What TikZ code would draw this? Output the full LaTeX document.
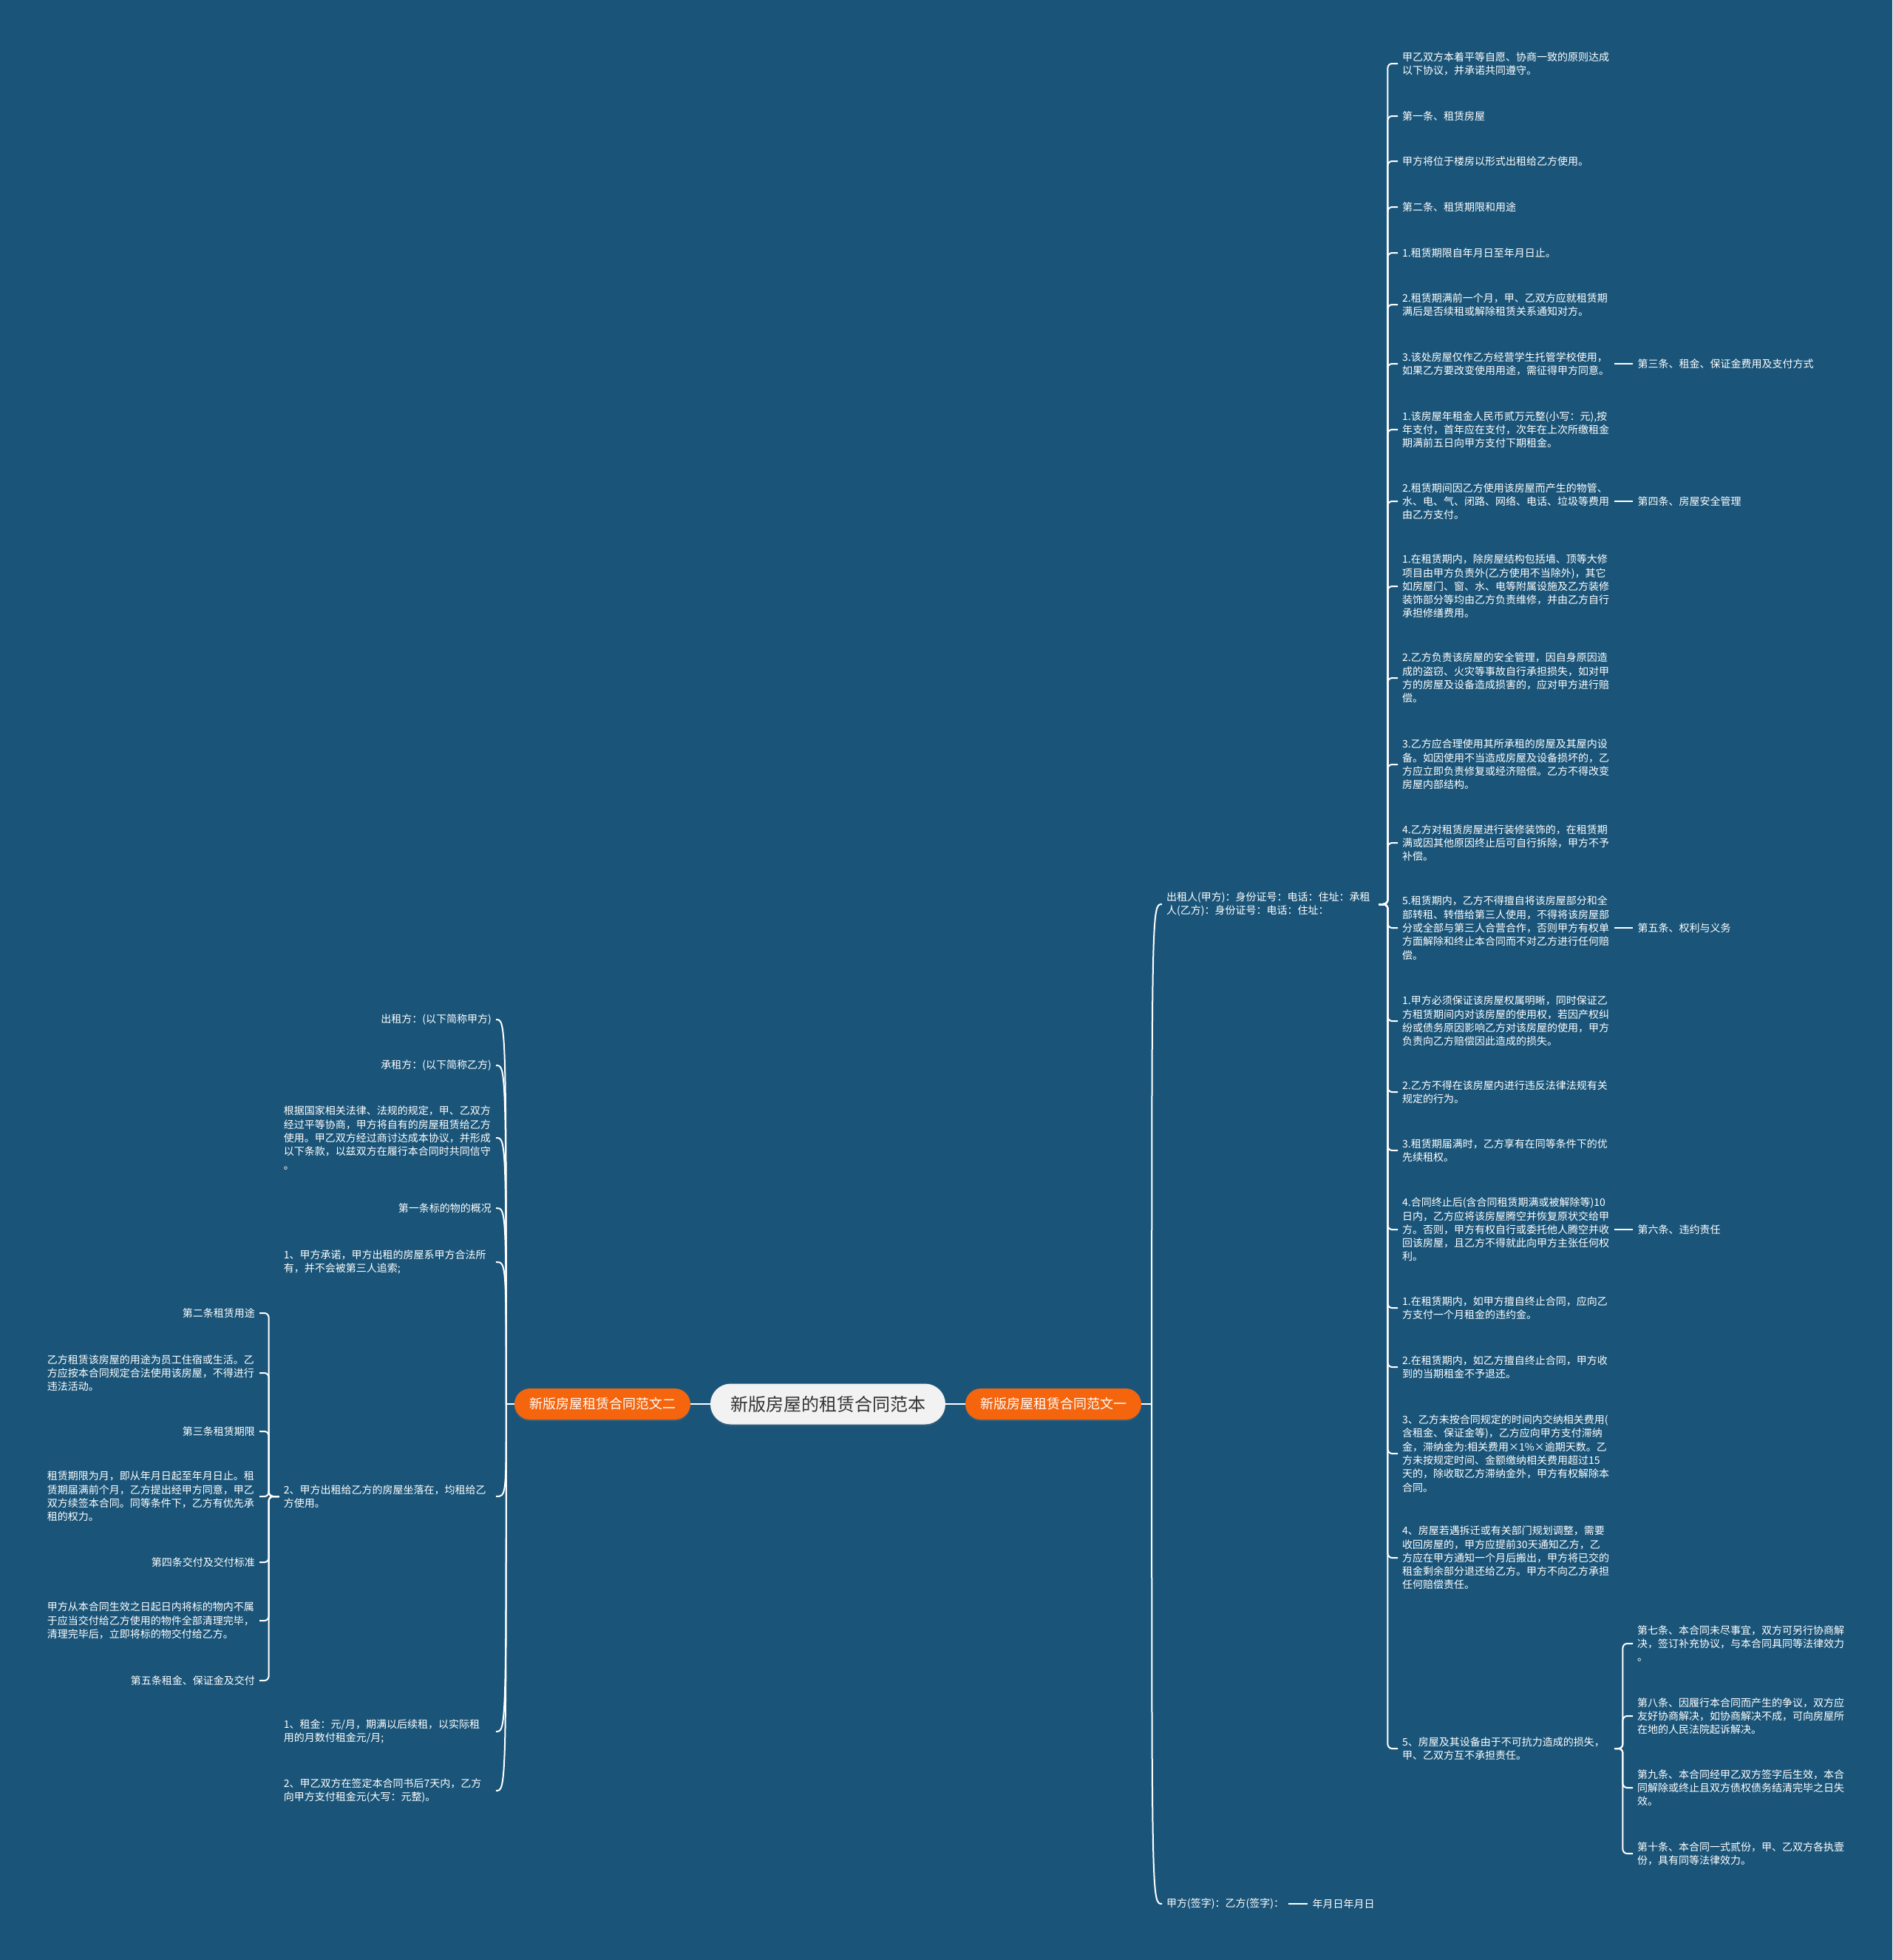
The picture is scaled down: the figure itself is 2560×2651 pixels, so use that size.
\documentclass[tikz,border=0pt]{standalone}
\usepackage{fontspec}
\setmainfont{Noto Sans CJK SC}
\usepackage{tikz}
\usetikzlibrary{positioning,shadows}
\definecolor{mapbg}{HTML}{1A5579}
\definecolor{rootfill}{HTML}{F2F2F2}
\definecolor{roottext}{HTML}{333333}
\definecolor{branchorange}{HTML}{F4650D}

\begin{document}
\begin{tikzpicture}[x=1pt,y=-1pt,
    txt/.style={text=white,font=\fontsize{14}{18.3}\selectfont,inner xsep=6pt,inner ysep=2pt},
    para/.style={txt,text width=281pt,align=left},
    link/.style={draw=white,line width=2pt},
    rootpill/.style={fill=rootfill,text=roottext,rounded corners=27.5pt,minimum height=55pt,
        minimum width=318pt,font=\fontsize{24}{28}\selectfont,
        drop shadow={shadow xshift=0pt,shadow yshift=-2pt,opacity=.25}},
    branchpill/.style={fill=branchorange,text=white,rounded corners=21pt,minimum height=42pt,
        minimum width=238pt,font=\fontsize{18}{22}\selectfont,
        drop shadow={shadow xshift=0pt,shadow yshift=-2pt,opacity=.3}}]
    \useasboundingbox (0,0) rectangle (2560,2651);
    \fill[mapbg] (0,0) rectangle (2560,2651);

    % centre and the two main branches
    \node[rootpill] (root) at (1120,1899) {新版房屋的租赁合同范本};
    \node[branchpill] (v1) at (1425,1899) {新版房屋租赁合同范文一};
    \node[branchpill] (v2) at (815,1899) {新版房屋租赁合同范文二};
    \draw[link] (root.east) -- (v1.west);
    \draw[link] (root.west) -- (v2.east);

    % branch one
    \node[para,anchor=west] (czr) at (1572,1223) {出租人(甲方)：身份证号：电话：住址：承租\\人(乙方)：身份证号：电话：住址：};
    \node[txt,anchor=west] (js) at (1572,2575) {甲方(签字)：乙方(签字)：};
    \node[txt,right=26pt of js] (nyr) {年月日年月日};
    \draw[link] (v1.east) -- ++(14,0) coordinate (b1);
    \draw[link] (b1) .. controls (b1 |- czr.west) .. (czr.west);
    \draw[link] (b1) .. controls (b1 |- js.west) .. (js.west);
    \draw[link] (js.east) -- (nyr.west);

    \node[para,anchor=west] (r1) at (1891,86) {甲乙双方本着平等自愿、协商一致的原则达成\\以下协议，并承诺共同遵守。};
    \node[txt,anchor=west] (r2) at (1891,157) {第一条、租赁房屋};
    \node[txt,anchor=west] (r3) at (1891,218) {甲方将位于楼房以形式出租给乙方使用。};
    \node[txt,anchor=west] (r4) at (1891,280) {第二条、租赁期限和用途};
    \node[txt,anchor=west] (r5) at (1891,342) {1.租赁期限自年月日至年月日止。};
    \node[para,anchor=west] (r6) at (1891,412) {2.租赁期满前一个月，甲、乙双方应就租赁期\\满后是否续租或解除租赁关系通知对方。};
    \node[para,anchor=west] (r7) at (1891,492) {3.该处房屋仅作乙方经营学生托管学校使用，\\如果乙方要改变使用用途，需征得甲方同意。};
    \node[para,anchor=west] (r8) at (1891,581) {1.该房屋年租金人民币贰万元整(小写：元),按\\年支付，首年应在支付，次年在上次所缴租金\\期满前五日向甲方支付下期租金。};
    \node[para,anchor=west] (r9) at (1891,678) {2.租赁期间因乙方使用该房屋而产生的物管、\\水、电、气、闭路、网络、电话、垃圾等费用\\由乙方支付。};
    \node[para,anchor=west] (r10) at (1891,793) {1.在租赁期内，除房屋结构包括墙、顶等大修\\项目由甲方负责外(乙方使用不当除外)，其它\\如房屋门、窗、水、电等附属设施及乙方装修\\装饰部分等均由乙方负责维修，并由乙方自行\\承担修缮费用。};
    \node[para,anchor=west] (r11) at (1891,917) {2.乙方负责该房屋的安全管理，因自身原因造\\成的盗窃、火灾等事故自行承担损失，如对甲\\方的房屋及设备造成损害的，应对甲方进行赔\\偿。};
    \node[para,anchor=west] (r12) at (1891,1034) {3.乙方应合理使用其所承租的房屋及其屋内设\\备。如因使用不当造成房屋及设备损坏的，乙\\方应立即负责修复或经济赔偿。乙方不得改变\\房屋内部结构。};
    \node[para,anchor=west] (r13) at (1891,1140) {4.乙方对租赁房屋进行装修装饰的，在租赁期\\满或因其他原因终止后可自行拆除，甲方不予\\补偿。};
    \node[para,anchor=west] (r14) at (1891,1255) {5.租赁期内，乙方不得擅自将该房屋部分和全\\部转租、转借给第三人使用，不得将该房屋部\\分或全部与第三人合营合作，否则甲方有权单\\方面解除和终止本合同而不对乙方进行任何赔\\偿。};
    \node[para,anchor=west] (r15) at (1891,1381) {1.甲方必须保证该房屋权属明晰，同时保证乙\\方租赁期间内对该房屋的使用权，若因产权纠\\纷或债务原因影响乙方对该房屋的使用，甲方\\负责向乙方赔偿因此造成的损失。};
    \node[para,anchor=west] (r16) at (1891,1477) {2.乙方不得在该房屋内进行违反法律法规有关\\规定的行为。};
    \node[para,anchor=west] (r17) at (1891,1556) {3.租赁期届满时，乙方享有在同等条件下的优\\先续租权。};
    \node[para,anchor=west] (r18) at (1891,1663) {4.合同终止后(含合同租赁期满或被解除等)10\\日内，乙方应将该房屋腾空并恢复原状交给甲\\方。否则，甲方有权自行或委托他人腾空并收\\回该房屋，且乙方不得就此向甲方主张任何权\\利。};
    \node[para,anchor=west] (r19) at (1891,1769) {1.在租赁期内，如甲方擅自终止合同，应向乙\\方支付一个月租金的违约金。};
    \node[para,anchor=west] (r20) at (1891,1849) {2.在租赁期内，如乙方擅自终止合同，甲方收\\到的当期租金不予退还。};
    \node[para,anchor=west] (r21) at (1891,1966) {3、乙方未按合同规定的时间内交纳相关费用(\\含租金、保证金等)，乙方应向甲方支付滞纳\\金，滞纳金为:相关费用×1\%×逾期天数。乙\\方未按规定时间、金额缴纳相关费用超过15\\天的，除收取乙方滞纳金外，甲方有权解除本\\合同。};
    \node[para,anchor=west] (r22) at (1891,2107) {4、房屋若遇拆迁或有关部门规划调整，需要\\收回房屋的，甲方应提前30天通知乙方，乙\\方应在甲方通知一个月后搬出，甲方将已交的\\租金剩余部分退还给乙方。甲方不向乙方承担\\任何赔偿责任。};
    \node[para,anchor=west] (r23) at (1891,2365) {5、房屋及其设备由于不可抗力造成的损失，\\甲、乙双方互不承担责任。};
    \foreach \i in {1,...,23}
        \draw[link,rounded corners=6pt] (czr.east) -- ++(12,0) |- (r\i.west);

    \node[txt,right=25pt of r7] (t3) {第三条、租金、保证金费用及支付方式};
    \node[txt,right=25pt of r9] (t4) {第四条、房屋安全管理};
    \node[txt,right=25pt of r14] (t5) {第五条、权利与义务};
    \node[txt,right=25pt of r18] (t6) {第六条、违约责任};
    \draw[link] (r7.east) -- (t3.west);
    \draw[link] (r9.east) -- (t4.west);
    \draw[link] (r14.east) -- (t5.west);
    \draw[link] (r18.east) -- (t6.west);

    \node[para,anchor=west] (s7) at (2209,2223) {第七条、本合同未尽事宜，双方可另行协商解\\决，签订补充协议，与本合同具同等法律效力\\。};
    \node[para,anchor=west] (s8) at (2209,2321) {第八条、因履行本合同而产生的争议，双方应\\友好协商解决，如协商解决不成，可向房屋所\\在地的人民法院起诉解决。};
    \node[para,anchor=west] (s9) at (2209,2418) {第九条、本合同经甲乙双方签字后生效，本合\\同解除或终止且双方债权债务结清完毕之日失\\效。};
    \node[para,anchor=west] (s10) at (2209,2507) {第十条、本合同一式贰份，甲、乙双方各执壹\\份，具有同等法律效力。};
    \foreach \i in {7,...,10}
        \draw[link,rounded corners=6pt] (r23.east) -- ++(11,0) |- (s\i.west);

    % branch two
    \node[txt,anchor=east] (l1) at (671,1379) {出租方：(以下简称甲方)};
    \node[txt,anchor=east] (l2) at (671,1441) {承租方：(以下简称乙方)};
    \node[para,anchor=east] (l3) at (671,1539) {根据国家相关法律、法规的规定，甲、乙双方\\经过平等协商，甲方将自有的房屋租赁给乙方\\使用。甲乙双方经过商讨达成本协议，并形成\\以下条款，以兹双方在履行本合同时共同信守\\。};
    \node[txt,anchor=east] (l4) at (671,1634) {第一条标的物的概况};
    \node[para,anchor=east] (l5) at (671,1707) {1、甲方承诺，甲方出租的房屋系甲方合法所\\有，并不会被第三人追索;};
    \node[para,anchor=east] (l6) at (671,2024) {2、甲方出租给乙方的房屋坐落在，均租给乙\\方使用。};
    \node[para,anchor=east] (l7) at (671,2342) {1、租金：元/月，期满以后续租，以实际租\\用的月数付租金元/月;};
    \node[para,anchor=east] (l8) at (671,2422) {2、甲乙双方在签定本合同书后7天内，乙方\\向甲方支付租金元(大写：元整)。};
    \draw[link] (v2.west) -- ++(-11,0) coordinate (b2);
    \foreach \i in {1,...,8}
        \draw[link] (b2) .. controls (b2 |- l\i.east) .. (l\i.east);

    \node[txt,anchor=east] (f1) at (351,1776) {第二条租赁用途};
    \node[para,anchor=east] (f2) at (351,1857) {乙方租赁该房屋的用途为员工住宿或生活。乙\\方应按本合同规定合法使用该房屋，不得进行\\违法活动。};
    \node[txt,anchor=east] (f3) at (351,1936) {第三条租赁期限};
    \node[para,anchor=east] (f4) at (351,2024) {租赁期限为月，即从年月日起至年月日止。租\\赁期届满前个月，乙方提出经甲方同意，甲乙\\双方续签本合同。同等条件下，乙方有优先承\\租的权力。};
    \node[txt,anchor=east] (f5) at (351,2113) {第四条交付及交付标准};
    \node[para,anchor=east] (f6) at (351,2192) {甲方从本合同生效之日起日内将标的物内不属\\于应当交付给乙方使用的物件全部清理完毕，\\清理完毕后，立即将标的物交付给乙方。};
    \node[txt,anchor=east] (f7) at (351,2273) {第五条租金、保证金及交付};
    \foreach \i in {1,...,7}
        \draw[link,rounded corners=6pt] (l6.west) -- ++(-14,0) |- (f\i.east);
\end{tikzpicture}
\end{document}
